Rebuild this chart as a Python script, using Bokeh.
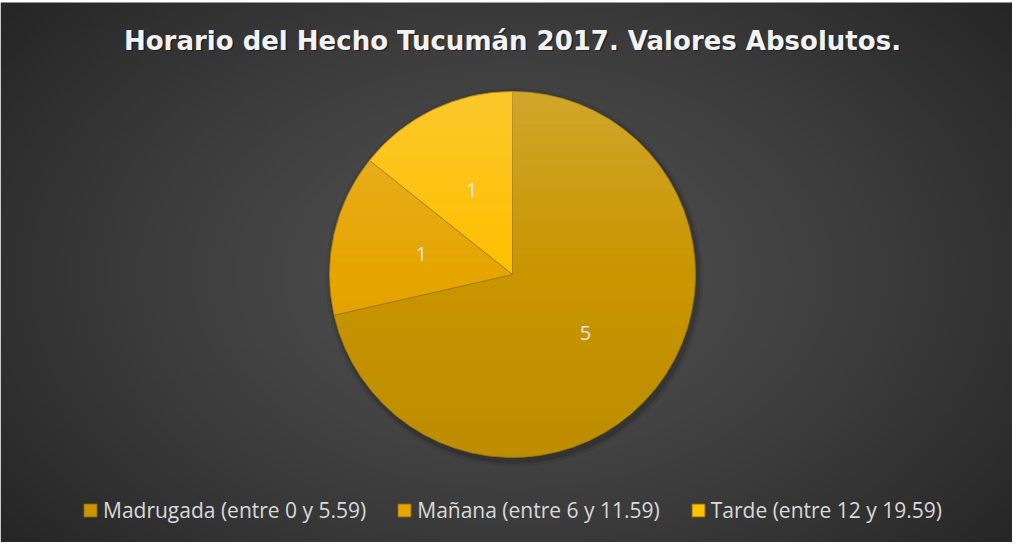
import numpy as np
from bokeh.plotting import figure
from bokeh.models import Range1d, Label, Legend, LegendItem, ColumnDataSource
from bokeh.core.properties import value
from bokeh.embed import file_html
from bokeh.resources import INLINE

# ---- data ----
categories = ["Madrugada (entre 0 y 5.59)", "Mañana (entre 6 y 11.59)", "Tarde (entre 12 y 19.59)"]
values = [5, 1, 1]
value_labels = ["5", "1", "1"]
colors = ["#c99600", "#e6a500", "#ffc000"]
title_text = "Horario del Hecho Tucumán 2017. Valores Absolutos."

# ---- figure ----
W, H = 1012, 542
p = figure(width=W, height=H, x_range=Range1d(0, W), y_range=Range1d(0, H),
           output_backend="svg", toolbar_location=None,
           x_axis_type=None, y_axis_type=None, min_border=0)
p.grid.visible = False
p.outline_line_color = None
p.background_fill_color = "white"
p.border_fill_color = "white"

# background radial gradient
bh = 540
nx, ny = 253, 135
xs = (np.arange(nx) + 0.5) * W / nx
ys = (np.arange(ny) + 0.5) * bh / ny
X, Y = np.meshgrid(xs, ys)
cx, cy, R = 512, 268, 183
d = np.sqrt(((X - cx) / 640) ** 2 + ((Y - cy) / 430) ** 2)
g = (80 - 42 * np.clip(d, 0, 1) ** 1.3).astype(np.uint8)
bg = np.empty((ny, nx), dtype=np.uint32)
v = bg.view(dtype=np.uint8).reshape((ny, nx, 4))
v[..., 0] = g; v[..., 1] = g; v[..., 2] = g; v[..., 3] = 255
p.image_rgba(image=[bg], x=0, y=0, dw=W, dh=bh)

# pie geometry from values
vals = np.array(values, dtype=float)
angles = vals / vals.sum() * 2 * np.pi
start = np.pi / 2 - np.concatenate([[0], np.cumsum(angles)[:-1]])
end = start - angles
mid = start - angles / 2

# shadow
p.circle(x=cx + 2, y=cy - 3, radius=R + 6, fill_color="black", fill_alpha=0.07, line_color=None)
p.circle(x=cx + 2, y=cy - 3, radius=R + 3, fill_color="black", fill_alpha=0.15, line_color=None)

src = ColumnDataSource(dict(start=start, end=end, color=colors, cat=categories))
wr = p.wedge(x=cx, y=cy, radius=R, start_angle="start", end_angle="end", direction="clock",
             fill_color="color", line_color="#a27a00", line_width=0.8, source=src)

# light-from-top shading overlay on the pie
n = 2 * R + 4
ox = (np.arange(n) + 0.5) + (cx - R - 2)
oy = (np.arange(n) + 0.5) + (cy - R - 2)
OX, OY = np.meshgrid(ox, oy)
rr = np.sqrt((OX - cx) ** 2 + (OY - cy) ** 2)
mask = np.clip(R - rr + 0.5, 0, 1)
t = (OY - (cy - R)) / (2 * R)
wa = np.clip((t - 0.5) / 0.5, 0, 1) * 0.22
ba = np.clip((0.5 - t) / 0.5, 0, 1) * 0.06
ov = np.empty((n, n), dtype=np.uint32)
ovv = ov.view(dtype=np.uint8).reshape((n, n, 4))
isw = wa > 0
ovv[..., 0] = np.where(isw, 235, 0)
ovv[..., 1] = np.where(isw, 225, 0)
ovv[..., 2] = np.where(isw, 200, 0)
ovv[..., 3] = (np.where(isw, wa, ba) * mask * 255).astype(np.uint8)
p.image_rgba(image=[ov], x=cx - R - 2, y=cy - R - 2, dw=n, dh=n)

# value labels
lr = 0.51 * R
lsrc = ColumnDataSource(dict(x=cx + lr * np.cos(mid), y=cy + lr * np.sin(mid), t=value_labels))
p.text(x="x", y="y", text="t", source=lsrc, text_align="center", text_baseline="middle",
       text_font=value("Open Sans"), text_font_size="20px", text_color="#e3e3e3")

# title (with soft shadow)
p.add_layout(Label(x=513.5, y=500.5, text=title_text, text_align="center", text_baseline="middle",
                   text_font="DejaVu Sans", text_font_style="bold", text_font_size="26px",
                   text_color="black", text_alpha=0.45))
p.add_layout(Label(x=512, y=502, text=title_text, text_align="center", text_baseline="middle",
                   text_font="DejaVu Sans", text_font_style="bold", text_font_size="26px",
                   text_color="#f2f2f2"))

legend = Legend(items=[LegendItem(label=c, renderers=[wr], index=i) for i, c in enumerate(categories)],
                orientation="horizontal", location=(82, 18),
                background_fill_alpha=0, border_line_color=None,
                label_text_color="#d9d9d9", label_text_font="Open Sans", label_text_font_size="21px",
                glyph_width=16, glyph_height=16, label_standoff=5, spacing=30, padding=0, margin=0)
p.add_layout(legend)

open("out.html", "w").write(file_html(p, INLINE))
